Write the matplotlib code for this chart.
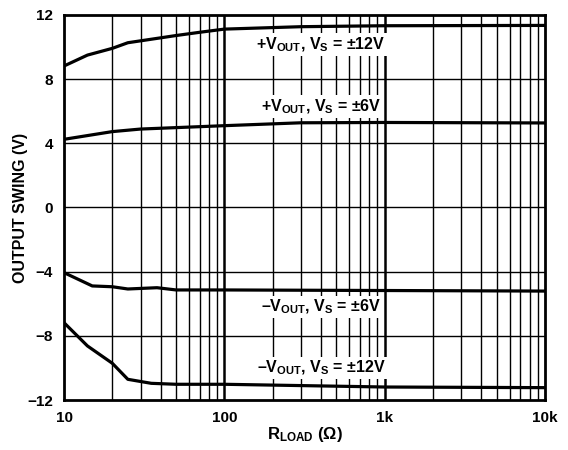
import matplotlib
matplotlib.use('Agg')
import matplotlib.pyplot as plt
from matplotlib.ticker import NullFormatter

plt.rcParams['font.family'] = ['Liberation Sans', 'DejaVu Sans']
plt.rcParams['font.weight'] = 'bold'
plt.rcParams['mathtext.fontset'] = 'custom'
plt.rcParams['mathtext.rm'] = 'Liberation Sans:bold'
plt.rcParams['mathtext.bf'] = 'Liberation Sans:bold'
plt.rcParams['mathtext.it'] = 'Liberation Sans:bold'

# load resistance (ohm) and output swing (V)
r_pos12 = [10, 14, 20, 25, 50, 70, 100, 300, 1000, 10000]
v_pos12 = [8.82, 9.5, 9.92, 10.27, 10.72, 10.92, 11.12, 11.27, 11.33, 11.35]
r_pos6 = [10, 20, 30, 100, 300, 1000, 10000]
v_pos6 = [4.25, 4.73, 4.89, 5.1, 5.28, 5.3, 5.27]
r_neg6 = [10, 15, 20, 25, 38, 50, 100, 10000]
v_neg6 = [-4.06, -4.89, -4.94, -5.08, -5.0, -5.14, -5.14, -5.21]
r_neg12 = [10, 14, 20, 25, 35, 50, 100, 1000, 10000]
v_neg12 = [-7.18, -8.63, -9.71, -10.71, -10.96, -11.02, -11.02, -11.19, -11.23]

labels = ['+V$_{OUT}$, V$_S$ = ±12V', '+V$_{OUT}$, V$_S$ = ±6V',
          '–V$_{OUT}$, V$_S$ = ±6V', '–V$_{OUT}$, V$_S$ = ±12V']
label_y = [10.15, 6.3, -6.2, -10.0]

fig = plt.figure(figsize=(5.68, 4.5), dpi=100)
ax = fig.add_axes([0.1127, 0.1111, 0.847, 0.8556])

ax.set_xscale('log')
ax.set_xlim(10, 10000)
ax.set_ylim(-12, 12)

# grid
for d in [10, 100, 1000]:
    for m in range(2, 10):
        ax.axvline(d * m, color='k', lw=1.0, zorder=1)
for d in [100, 1000]:
    ax.axvline(d, color='k', lw=1.8, zorder=1)
for yv in [-8, -4, 0, 4, 8]:
    ax.axhline(yv, color='k', lw=1.0, zorder=1)

for r, v in [(r_pos12, v_pos12), (r_pos6, v_pos6), (r_neg6, v_neg6), (r_neg12, v_neg12)]:
    ax.plot(r, v, color='k', lw=2.3, zorder=3)

for txt, yv in zip(labels, label_y):
    ax.text(400, yv, txt, ha='center', va='center', fontsize=11.5, fontweight='bold',
            zorder=4, bbox=dict(facecolor='white', edgecolor='none', pad=1.5))

ax.set_xticks([10, 100, 1000, 10000])
ax.set_xticklabels(['10', '100', '1k', '10k'])
ax.xaxis.set_minor_formatter(NullFormatter())
ax.set_yticks([-12, -8, -4, 0, 4, 8, 12])
ax.set_yticklabels(['−12', '−8', '−4', '0', '4', '8', '12'])
ax.tick_params(axis='both', which='both', length=0, labelsize=11, pad=8)

for s in ax.spines.values():
    s.set_linewidth(2.0)

ax.set_xlabel('R$_{LOAD}$ (Ω)', fontsize=12, fontweight='bold', labelpad=0)
ax.set_ylabel('OUTPUT SWING (V)', fontsize=11.5, fontweight='bold', labelpad=-1)

fig.savefig('out.png', dpi=100)
